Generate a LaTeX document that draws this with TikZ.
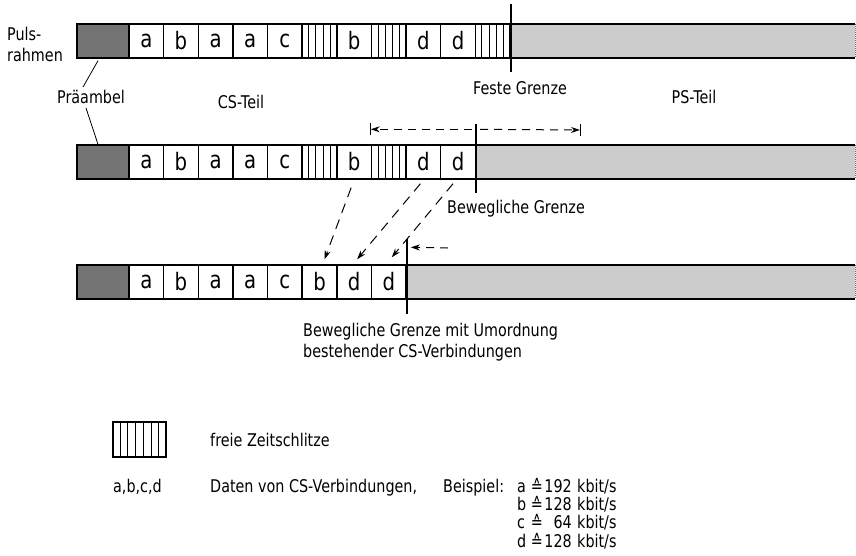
\documentclass[tikz,border=0pt]{standalone}
\usepackage{fontspec}
\setmainfont{DejaVu Sans}[FakeStretch=0.82]
\usetikzlibrary{arrows.meta,calc}
\begin{document}
\begin{tikzpicture}[x=1pt,y=-1pt,
  cell/.style={draw, line width=1.4pt, minimum width=34.64pt, minimum height=34pt, inner sep=0pt, font=\fontsize{24}{24}\selectfont},
  pre/.style={draw, line width=1.4pt, fill=black!55, minimum width=52pt, minimum height=34pt, inner sep=0pt},
  lbl/.style={font=\fontsize{17.5}{21}\selectfont, inner sep=0pt},
  rate/.style={lbl, text height=11pt, text depth=2pt},
  frame/.style={line width=2.2pt},
  grenze/.style={line width=2pt},
  psfill/.style={fill=black!20},
  hatch/.style={line width=0.9pt},
  dsh/.style={dash pattern=on 8pt off 6pt, line width=1pt},
  dsh2/.style={dash pattern=on 10pt off 7pt, line width=1pt},
  tip/.style={-{Stealth[length=9pt,width=6pt]}},
  leader/.style={line width=0.8pt}
]
\useasboundingbox (0,0) rectangle (856,555);
\def\W{34.636}

% ---------- Row 1 ----------
\fill[psfill] (510,24) rectangle (855,58);
\node[pre] (p1) at (103,41) {};
\foreach \i/\l in {0/a,1/b,2/a,3/a,4/c,6/b,8/d,9/d}
  \node[cell] (r1c\i) at ({129+\W*(\i+0.5)},41) {\l};
\foreach \i in {5,7,10} {
  \node[cell] (r1c\i) at ({129+\W*(\i+0.5)},41) {};
  \foreach \k in {1,...,4}
    \draw[hatch] ($(r1c\i.south west)!\k/5!(r1c\i.south east)$) -- ($(r1c\i.north west)!\k/5!(r1c\i.north east)$);
}
\draw[frame] (855,24) -- (77,24) -- (77,58) -- (855,58);
\draw[black!60, densely dotted, line width=1pt] (855,24) -- (855,58);
\draw[grenze] ([yshift=19pt]r1c10.north east) -- ([yshift=-13pt]r1c10.south east);

% ---------- Row 2 ----------
\fill[psfill] (475.4,145) rectangle (855,179);
\node[pre] (p2) at (103,162) {};
\foreach \i/\l in {0/a,1/b,2/a,3/a,4/c,6/b,8/d,9/d}
  \node[cell] (r2c\i) at ({129+\W*(\i+0.5)},162) {\l};
\foreach \i in {5,7} {
  \node[cell] (r2c\i) at ({129+\W*(\i+0.5)},162) {};
  \foreach \k in {1,...,4}
    \draw[hatch] ($(r2c\i.south west)!\k/5!(r2c\i.south east)$) -- ($(r2c\i.north west)!\k/5!(r2c\i.north east)$);
}
\draw[frame] (855,145) -- (77,145) -- (77,179) -- (855,179);
\draw[black!60, densely dotted, line width=1pt] (855,145) -- (855,179);
\draw[grenze] ([yshift=20pt]r2c9.north east) -- ([yshift=-13pt]r2c9.south east);

% arrows above row 2
\coordinate (m2) at ([yshift=15pt]r2c9.north east);
\coordinate (lt) at ([yshift=15pt]r2c7.north west);
\coordinate (rt) at (580,130);
\draw[dsh, tip, shorten <=4pt] (m2) -- (lt);
\draw[dsh, tip, shorten <=4pt] (m2) -- (rt);
\draw[line width=1pt] ([yshift=6pt]lt) -- ([yshift=-6pt]lt);
\draw[line width=1pt] ([yshift=6pt]rt) -- ([yshift=-6pt]rt);

% ---------- Row 3 ----------
\fill[psfill] (406.1,265) rectangle (855,299);
\node[pre] (p3) at (103,282) {};
\foreach \i/\l in {0/a,1/b,2/a,3/a,4/c,5/b,6/d,7/d}
  \node[cell] (r3c\i) at ({129+\W*(\i+0.5)},282) {\l};
\draw[frame] (855,265) -- (77,265) -- (77,299) -- (855,299);
\draw[black!60, densely dotted, line width=1pt] (855,265) -- (855,299);
\draw[grenze] ([yshift=25pt]r3c7.north east) -- ([yshift=-14pt]r3c7.south east);
\coordinate (a3s) at (448,248);
\draw[dsh, tip] (a3s) -- ([xshift=4pt,yshift=17pt]r3c7.north east);

% moving arrows row 2 -> row 3
\draw[dsh2, tip] ([xshift=-3pt,yshift=-8pt]r2c6.south) -- ([xshift=5pt,yshift=5pt]r3c5.north);
\draw[dsh2, tip] ([xshift=-3pt,yshift=-4pt]r2c8.south) -- ([xshift=3pt,yshift=5pt]r3c6.north);
\draw[dsh2, tip] ([xshift=-5pt,yshift=-4pt]r2c9.south) -- ([xshift=3pt,yshift=7pt]r3c7.north);

% ---------- Labels ----------
\node[lbl, anchor=west, align=left] (puls) at (7,44) {Puls-\\rahmen};
\node[lbl] (praeambel) at (91,97) {Präambel};
\draw[leader] ([xshift=-5pt,yshift=-2pt]p1.south) -- ([xshift=-8pt,yshift=3pt]praeambel.north);
\draw[leader] ([xshift=-5pt,yshift=-4pt]praeambel.south) -- ([xshift=-5pt]p2.north);
\node[lbl] (csteil) at (241,102) {CS-Teil};
\node[lbl] (feste) at (520,88) {Feste Grenze};
\node[lbl] (psteil) at (694,97) {PS-Teil};
\node[lbl] (beweg) at (516,209) {Bewegliche Grenze};
\node[lbl, anchor=west, align=left] (umord) at (303,342) {Bewegliche Grenze mit Umordnung\\bestehender CS-Verbindungen};

% ---------- Legend ----------
\node[draw, line width=1.4pt, minimum width=53pt, minimum height=35pt, inner sep=0pt] (leg) at (139.5,439.5) {};
\foreach \k in {1,...,6}
  \draw[hatch] ($(leg.south west)!\k/7!(leg.south east)$) -- ($(leg.north west)!\k/7!(leg.north east)$);
\node[lbl, anchor=west] (freie) at (210,440) {freie Zeitschlitze};
\node[rate, anchor=west] (abcd) at (113,488) {a,b,c,d};
\node[rate, anchor=west] (daten) at (210,488) {Daten von CS-Verbindungen,};
\node[rate, anchor=west] (beisp) at (443,488) {Beispiel:};
\foreach \l/\n/\y in {a/192/488,b/128/506,c/64/524,d/128/543} {
  \node[rate, anchor=west] (rl\l) at (517,\y) {\l};
  \node[rate] (re\l) at (537,\y) {≙};
  \node[rate, anchor=east] (rn\l) at (572,\y) {\n};
  \node[rate, anchor=west] (ru\l) at (577,\y) {kbit/s};
}
\end{tikzpicture}
\end{document}
